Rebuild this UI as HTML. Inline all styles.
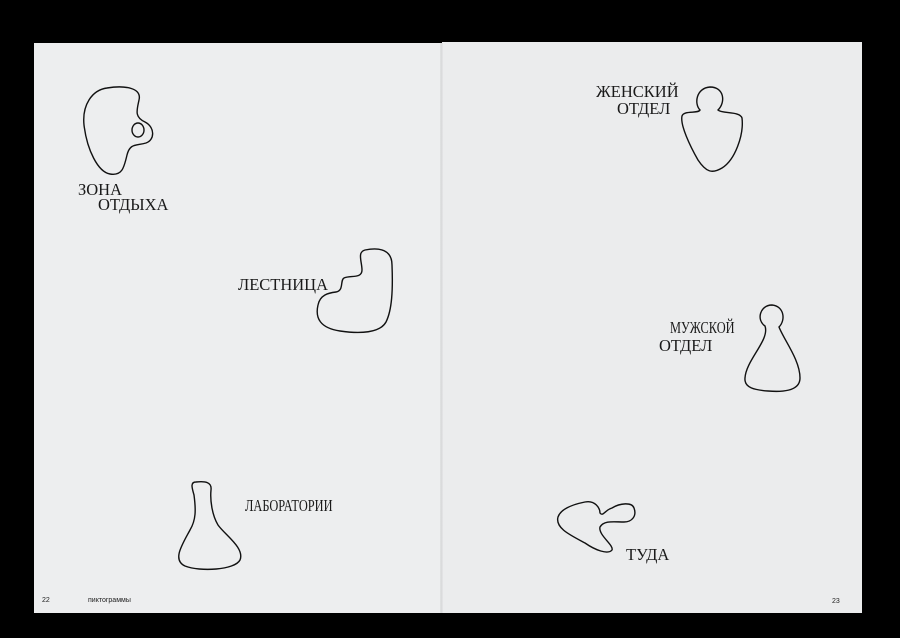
<!DOCTYPE html>
<html><head><meta charset="utf-8"><style>
html,body{margin:0;padding:0;background:#000;}
body{width:900px;height:638px;position:relative;overflow:hidden;}
.pg{position:absolute;background:#ecedee;}
.t{position:absolute;font-family:"Liberation Serif","Noto Serif CJK SC",serif;font-size:16.5px;color:#1a1a1a;letter-spacing:0;line-height:17px;white-space:nowrap;transform-origin:0 0;}
.f{position:absolute;font-family:"Liberation Sans",sans-serif;font-size:7px;color:#222;}
</style></head><body>
<div class="pg" style="left:34px;top:43px;width:408px;height:570px;background:#edeeef"></div>
<div class="pg" style="left:442px;top:42px;width:420px;height:571px;background:#ebeced"></div>
<div style="position:absolute;left:440px;top:43px;width:3px;height:570px;background:linear-gradient(90deg,#e2e3e4,#d8d9da,#e6e7e8)"></div>
<svg width="900" height="638" style="position:absolute;left:0;top:0" fill="none" stroke="#111" stroke-width="1.4">
<path d="M107,88 C125,85 142,88 139,100 C137,110 134,117 145,122 C155,127 155,140 146,143 C136,146 130,143 127,155 C124,168 122,176 110,174 C98,172 87,150 84,125 C82,105 92,90 107,88 Z"/>
<ellipse cx="138" cy="130" rx="6" ry="7"/>
<path d="M365,250 C380,247 392,250 392,265 C393,290 392,310 386,322 C380,333 360,334 340,331 C320,328 315,318 318,305 C320,295 328,293 336,292 C344,291 340,280 344,278 C350,275 362,279 362,270 C362,262 357,252 365,250 Z"/>
<path d="M196,482 C190,482 192,488 194,495 C196,510 196,520 190,530 C182,545 172,560 185,566 C200,572 235,570 240,560 C245,548 225,535 218,525 C212,515 210,500 211,490 C212,482 205,481 196,482 Z"/>
<path d="M700,110 C694,104 696,88 710,87 C724,87 726,102 718,110 C722,114 740,111 742,118 C744,135 735,160 722,168 C712,174 706,172 698,160 C690,146 680,125 682,116 C684,110 698,114 700,110 Z"/>
<path d="M765,326 C756,320 760,305 772,305 C784,306 786,320 779,327 C784,340 800,360 800,378 C800,392 780,392 768,391 C755,390 744,388 745,378 C746,360 770,340 765,326 Z"/>
<path d="M585,502 C595,500 600,508 600,513 C603,517 605,510 612,508 C620,503 632,502 634,508 C637,516 632,522 624,522 C614,522 604,520 600,527 C598,535 614,545 612,550 C608,555 595,550 585,543 C570,535 555,528 558,517 C561,508 575,504 585,502 Z"/>
</svg>
<div class="t" style="left:78px;top:181px">ЗОНА</div>
<div class="t" style="left:98px;top:196px">ОТДЫХА</div>
<div class="t" style="left:238px;top:276px">ЛЕСТНИЦА</div>
<div class="t" style="left:245px;top:497px;transform:scaleX(0.75)">ЛАБОРАТОРИИ</div>
<div class="t" style="left:596px;top:83px">ЖЕНСКИЙ</div>
<div class="t" style="left:617px;top:100px">ОТДЕЛ</div>
<div class="t" style="left:670px;top:319px;transform:scaleX(0.75)">МУЖСКОЙ</div>
<div class="t" style="left:659px;top:337px">ОТДЕЛ</div>
<div class="t" style="left:626px;top:546px">ТУДА</div>
<div class="f" style="left:42px;top:597px">22</div>
<div class="f" style="left:88px;top:597px">пиктограммы</div>
<div class="f" style="left:832px;top:598px">23</div>
</body></html>
